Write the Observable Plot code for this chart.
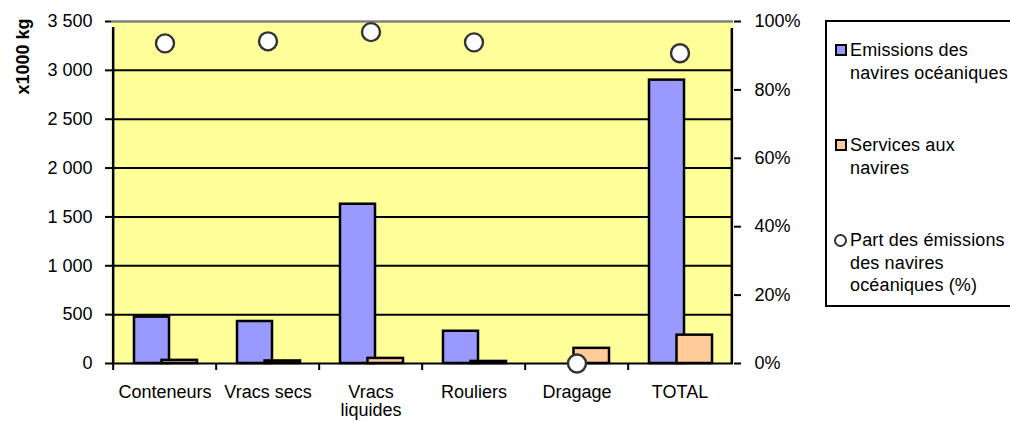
<!DOCTYPE html>
<html lang="fr">
<head>
<meta charset="utf-8">
<script src="https://cdn.jsdelivr.net/npm/d3@7"></script>
<script src="https://cdn.jsdelivr.net/npm/@observablehq/plot@0.6"></script>
<style>
  html, body { margin: 0; padding: 0; background: #fff; }
  #chart { position: relative; width: 1010px; height: 421px; overflow: hidden;
           font-family: "Liberation Sans", Arial, sans-serif; }
  #chart svg { position: absolute; left: 0; top: 0; }
  .legend { position: absolute; left: 825px; top: 20px; width: 220px; height: 287px;
            border: 2px solid #000; background: #fff; box-sizing: border-box; }
  .legend .item { position: absolute; left: 0; font-size: 18px; line-height: 22.5px; color: #000; letter-spacing: 0.15px; }
  .legend .key { position: absolute; left: 8px; top: 5px; width: 12px; height: 12px;
                 box-sizing: border-box; border: 2px solid #000; }
  .legend .key.dot { border-radius: 50%; border: 2.5px solid #333; background: #fff; width: 13px; height: 13px; top: 5px; left: 7px; }
  .legend .text { position: absolute; left: 23px; top: 0; white-space: nowrap; }
</style>
</head>
<body>
<div id="chart"></div>
<script>
// Emissions par type de navire (x1000 kg) and share of ocean-going vessels
const categories = ["Conteneurs", "Vracs secs", "Vracs liquides", "Rouliers", "Dragage", "TOTAL"];
const categoryLabels = ["Conteneurs", "Vracs secs", "Vracs\nliquides", "Rouliers", "Dragage", "TOTAL"];
const oceanEmissions = [475, 430, 1630, 330, 0, 2900];
const shipServices = [32, 26, 52, 21, 155, 290];
const oceanShare = [0.936, 0.942, 0.969, 0.939, 0, 0.907];

const seriesNames = ["Emissions des navires océaniques", "Services aux navires", "Part des émissions des navires océaniques (%)"];
const seriesColors = ["#9999FF", "#FFCC99", "#FFFFFF"];
const yTicks = [0, 500, 1000, 1500, 2000, 2500, 3000, 3500];
const shareTicks = [0, 0.2, 0.4, 0.6, 0.8, 1];
const yTitle = "x1000 kg";

const rows = categories.map((c, i) => ({
  category: c,
  label: categoryLabels[i],
  ocean: oceanEmissions[i],
  services: shipServices[i],
  share: oceanShare[i]
}));

const width = 1010, height = 421;
const marginLeft = 111, marginRight = 277, marginTop = 21, marginBottom = 58;
const halfBand = (width - marginLeft - marginRight) / categories.length / 2;

// secondary axis: share (0–100 %) mapped onto the emissions scale
const yMax = d3.max(yTicks);
const y2 = d3.scaleLinear([0, 1], [0, yMax]);

const fr = d3.formatLocale({decimal: ",", thousands: " ", grouping: [3], currency: ["", " €"]});
const fmtKg = fr.format(",");
const fmtPct = d3.format(".0%");
const labelOf = new Map(rows.map(d => [d.category, d.label]));

const plot = Plot.plot({
  width, height, marginLeft, marginRight, marginTop, marginBottom,
  style: {fontFamily: "'Liberation Sans', Arial, sans-serif", fontSize: "18px", background: "transparent", overflow: "visible", color: "#000"},
  x: {domain: categories, padding: 0, axis: null},
  y: {domain: [0, yMax], axis: null},
  marks: [
    Plot.frame({fill: "#FFFF99", stroke: null}),
    Plot.ruleY(yTicks.filter(t => t > 0 && t < yMax), {stroke: "#000", strokeWidth: 2}),
    Plot.ruleY([yMax], {stroke: "#808080", strokeWidth: 2.5}),
    Plot.barY(rows, {x: "category", y: "ocean", filter: d => d.ocean > 0,
      fill: seriesColors[0], stroke: "#000", strokeWidth: 2.5, insetLeft: 21, insetRight: 47}),
    Plot.barY(rows, {x: "category", y: "services", filter: d => d.services > 0,
      fill: seriesColors[1], stroke: "#000", strokeWidth: 2.5, insetLeft: 48.5, insetRight: 19}),
    Plot.ruleY([0], {stroke: "#000", strokeWidth: 2}),
    // category boundary ticks below the baseline
    Plot.ruleX(categories, {x: d => d, y1: 0, y2: 0, insetBottom: -7, dx: -halfBand, stroke: "#000", strokeWidth: 2}),
    // left and right axis lines
    Plot.ruleX(categories.slice(0, 1), {x: d => d, y1: 0, y2: yMax, insetBottom: -6, dx: -halfBand, stroke: "#000", strokeWidth: 2.5}),
    Plot.ruleX(categories.slice(-1), {x: d => d, y1: 0, y2: yMax, insetBottom: -7, dx: halfBand, stroke: "#000", strokeWidth: 2.5}),
    Plot.axisY(yTicks, {anchor: "left", tickSize: 6, tickPadding: 13, strokeWidth: 2, tickFormat: fmtKg, label: null, fontSize: 18}),
    Plot.axisY(shareTicks, {anchor: "right", y: y2, tickSize: 7, tickPadding: 14, strokeWidth: 2, tickFormat: fmtPct, label: null, fontSize: 18}),
    Plot.axisX({anchor: "bottom", tickSize: 0, tickPadding: 22, tickFormat: d => labelOf.get(d), label: null, fontSize: 18, lineHeight: 1.0}),
    Plot.text([yTitle], {frameAnchor: "top-left", rotate: -90, textAnchor: "end", lineAnchor: "top",
      dx: -95, dy: -3, fontWeight: "bold", fontSize: 18}),
    Plot.dot(rows, {x: "category", y: d => y2(d.share), r: 9, fill: seriesColors[2], stroke: "#333", strokeWidth: 2.4})
  ]
});

const chart = document.getElementById("chart");
chart.appendChild(plot);

// legend box to the right of the plot
const legend = document.createElement("div");
legend.className = "legend";
const entries = [
  {lines: ["Emissions des", "navires océaniques"], color: seriesColors[0], top: 17, dot: false},
  {lines: ["Services aux", "navires"], color: seriesColors[1], top: 112, dot: false},
  {lines: ["Part des émissions", "des navires", "océaniques (%)"], color: seriesColors[2], top: 207, dot: true}
];
entries.forEach((e, i) => {
  const item = document.createElement("div");
  item.className = "item";
  item.style.top = e.top + "px";
  const key = document.createElement("span");
  key.className = "key" + (e.dot ? " dot" : "");
  key.style.background = e.color;
  const text = document.createElement("span");
  text.className = "text";
  text.innerHTML = e.lines.join("<br>");
  text.title = seriesNames[i];
  item.appendChild(key);
  item.appendChild(text);
  legend.appendChild(item);
});
chart.appendChild(legend);
</script>
</body>
</html>
